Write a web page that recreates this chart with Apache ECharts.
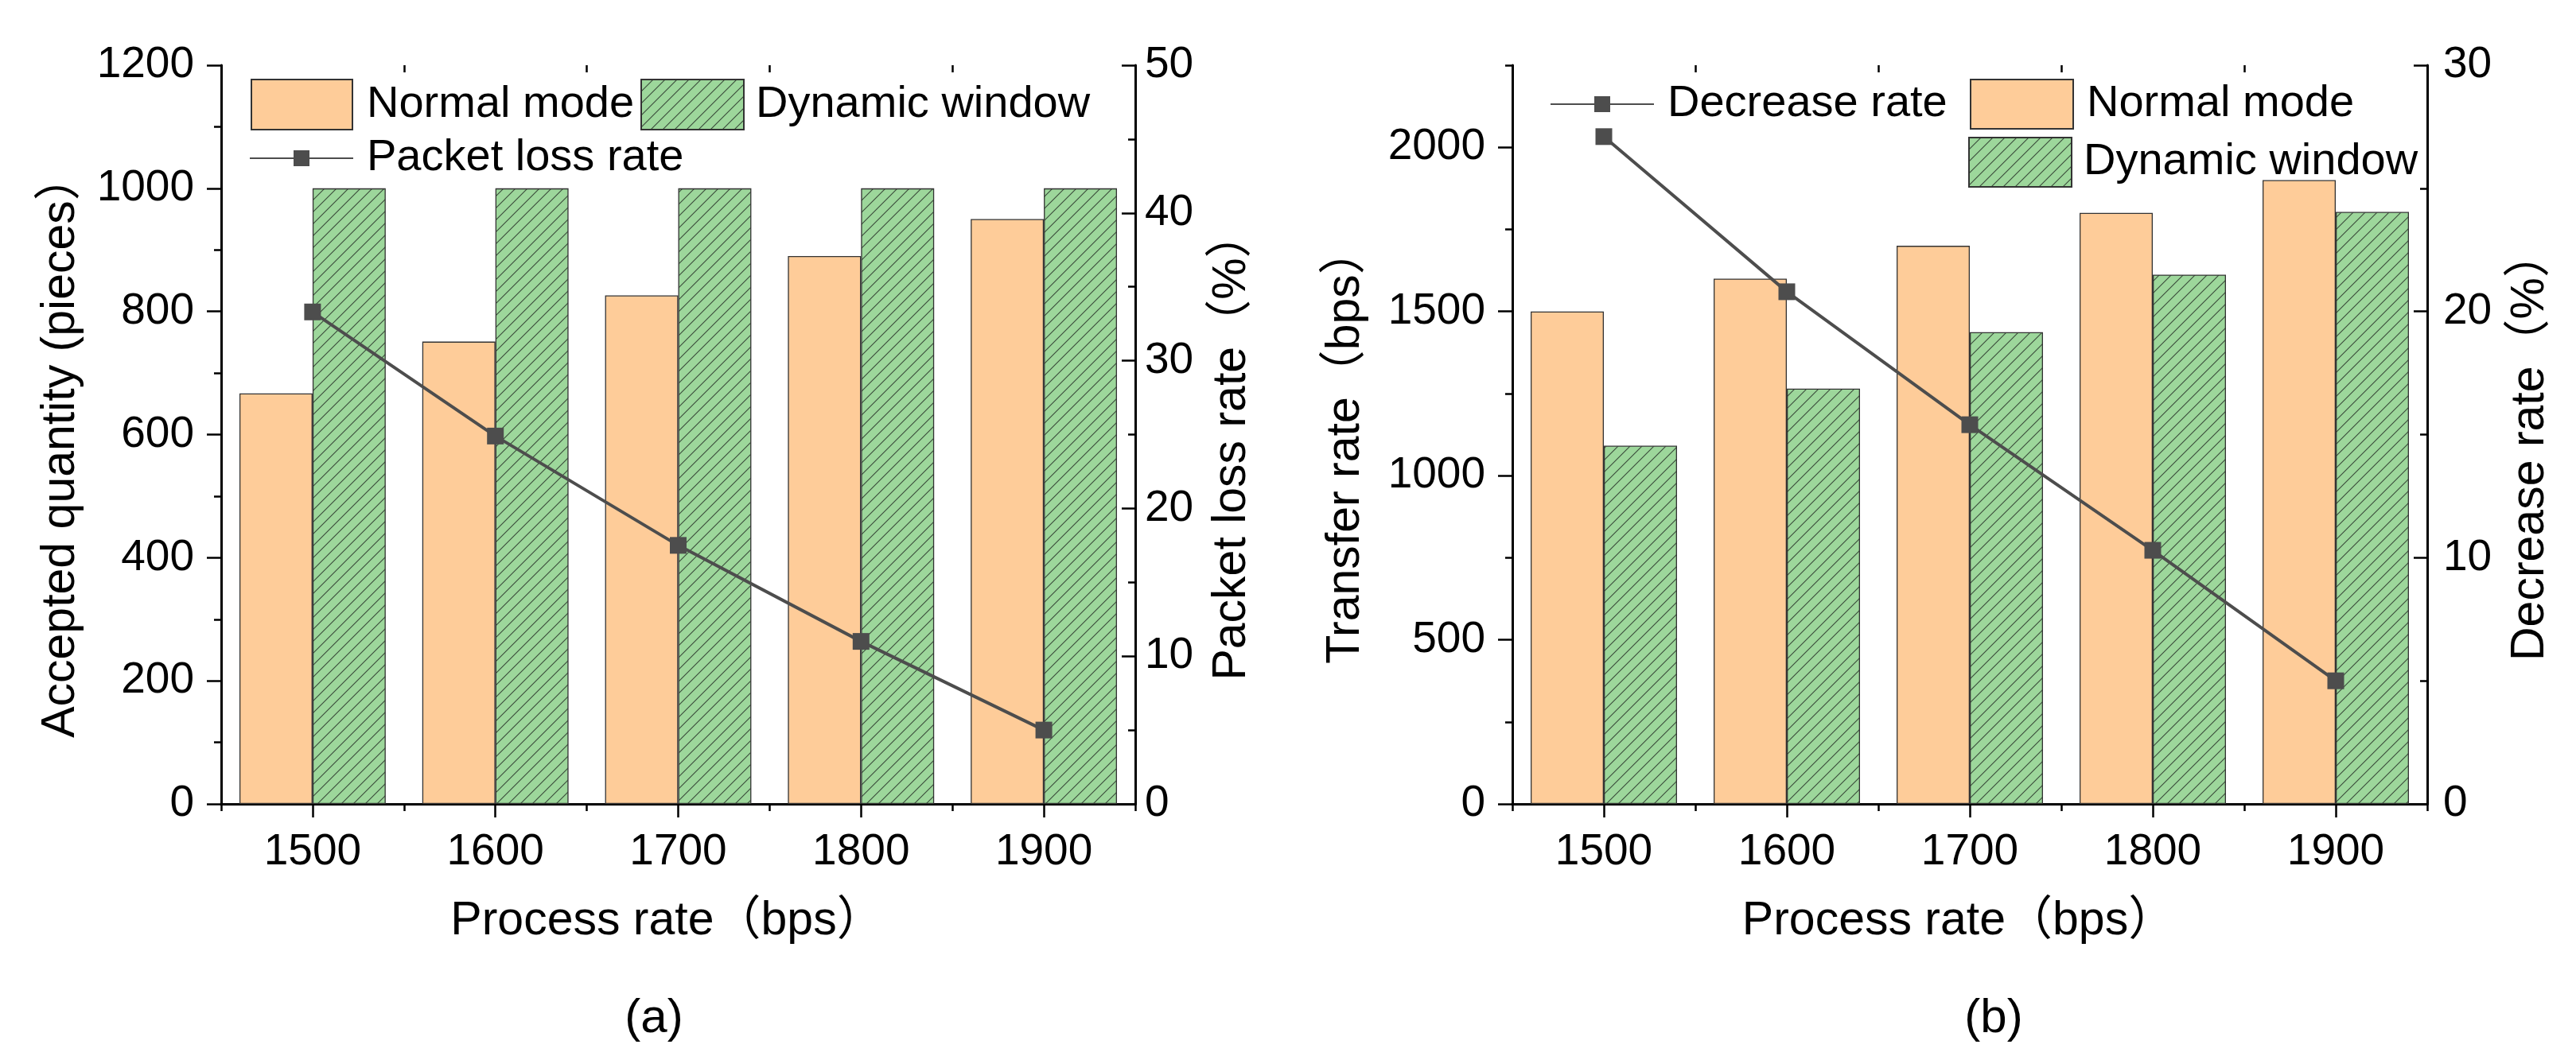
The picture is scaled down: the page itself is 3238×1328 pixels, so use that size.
<!DOCTYPE html>
<html><head><meta charset="utf-8">
<script src="https://cdn.jsdelivr.net/npm/echarts@6/dist/echarts.min.js"></script>
<style>html,body{margin:0;padding:0;background:#fff}#c{width:3238px;height:1328px}</style>
</head><body><div id="c"></div>
<script>
// ---------- data ----------
const categories = ['1500', '1600', '1700', '1800', '1900'];
const acceptedNormal = [667, 751, 826, 890, 950];
const acceptedDynamic = [1000, 1000, 1000, 1000, 1000];
const packetLossRate = [33.3, 24.9, 17.5, 11.0, 5.0];
const transferNormal = [1500, 1600, 1700, 1800, 1900];
const transferDynamic = [1091, 1265, 1437, 1612, 1803];
const decreaseRate = [27.1, 20.8, 15.4, 10.3, 5.0];
const transferTicks = [0, 500, 1000, 1500, 2000];

// ---------- style ----------
const FF = '"Liberation Sans", Arial, "Noto Sans CJK SC", sans-serif';
const ORANGE = '#FECC99';
const GREEN = '#9DD79B';
const LINE = '#4d4d4d';
const AXW = 3;

function hatch(bg, fg, s) {
  const c = document.createElement('canvas');
  c.width = s; c.height = s;
  const g = c.getContext('2d');
  g.fillStyle = bg; g.fillRect(0, 0, s, s);
  g.strokeStyle = fg; g.lineWidth = 1.1;
  g.beginPath();
  g.moveTo(-1, s + 1); g.lineTo(s + 1, -1);
  g.moveTo(-s / 2, s / 2); g.lineTo(s / 2, -s / 2);
  g.moveTo(s / 2, s * 1.5); g.lineTo(s * 1.5, s / 2);
  g.stroke();
  return c;
}
const hatchFill = { image: hatch(GREEN, '#3a4a3a', 15), repeat: 'repeat' };

const G = [
  { left: 278, top: 82, width: 1149, height: 929 },
  { left: 278, top: 82, width: 1149, height: 929 },
  { left: 1901, top: 82, width: 1150, height: 929 },
  { left: 1901, top: 82, width: 1150, height: 929 }
];

const plain = (v) => String(v);
const lblStyle = { fontSize: 55, color: '#000', fontFamily: FF, formatter: plain };
const nameStyle = (pad) => ({ fontSize: 59, color: '#000', fontFamily: FF, padding: pad });

function xMain(gi, pos, withLabel) {
  return {
    type: 'category', gridIndex: gi, position: pos, data: categories, boundaryGap: true,
    axisLine: { show: true, lineStyle: { color: '#000', width: AXW } },
    axisTick: { show: true, alignWithLabel: true, inside: pos === 'top', length: 17, lineStyle: { color: '#000', width: 2.5 } },
    axisLabel: withLabel ? Object.assign({ margin: 33 }, lblStyle) : { show: false },
    splitLine: { show: false },
    name: withLabel ? 'Process rate（bps）' : '',
    nameLocation: 'middle', nameGap: 118,
    nameTextStyle: nameStyle([0, 28, 0, 0])
  };
}
function xMinor(gi, pos) {
  return {
    type: 'category', gridIndex: gi, position: pos, data: categories, boundaryGap: true,
    axisLine: { show: false },
    axisTick: { show: true, alignWithLabel: false, inside: pos === 'top', length: 9, lineStyle: { color: '#000', width: 2.5 } },
    axisLabel: { show: false }, splitLine: { show: false }
  };
}

function lg(name, left, top, w, h, gap, icon) {
  const o = {
    data: [name], left: left, top: top, itemWidth: w, itemHeight: h, padding: 0, itemGap: 0,
    selectedMode: false,
    textStyle: { fontSize: 56, color: '#000', fontFamily: FF, padding: [0, 0, 0, gap] }
  };
  if (icon) o.icon = icon;
  return o;
}

const option = {
  backgroundColor: '#fff',
  animation: false,
  grid: G,
  xAxis: [
    xMain(0, 'bottom', true), xMain(0, 'top', false),
    xMinor(1, 'bottom'), xMinor(1, 'top'),
    xMain(2, 'bottom', true), xMain(2, 'top', false),
    xMinor(3, 'bottom'), xMinor(3, 'top')
  ],
  yAxis: [
    { // 0: chart a left
      type: 'value', gridIndex: 0, position: 'left', min: 0, max: 1200, interval: 200,
      axisLine: { show: true, lineStyle: { color: '#000', width: AXW } },
      axisTick: { show: true, inside: false, length: 18, lineStyle: { color: '#000', width: 2.5 } },
      minorTick: { show: true, splitNumber: 2, length: 9, lineStyle: { color: '#000', width: 2.5 } },
      axisLabel: Object.assign({ margin: 34 }, lblStyle),
      splitLine: { show: false },
      name: 'Accepted quantity (pieces）', nameLocation: 'middle', nameGap: 172,
      nameTextStyle: nameStyle([0, 28, 0, 0])
    },
    { // 1: chart a right
      type: 'value', gridIndex: 0, position: 'right', min: 0, max: 50, interval: 10,
      axisLine: { show: true, lineStyle: { color: '#000', width: AXW } },
      axisTick: { show: true, inside: true, length: 17, lineStyle: { color: '#000', width: 2.5 } },
      minorTick: { show: true, splitNumber: 2, length: 9, lineStyle: { color: '#000', width: 2.5 } },
      axisLabel: Object.assign({ margin: 12 }, lblStyle),
      splitLine: { show: false },
      name: 'Packet loss rate（%）', nameLocation: 'middle', nameGap: 92,
      nameTextStyle: nameStyle([0, 28, 0, 0])
    },
    { type: 'value', gridIndex: 1, show: false, min: 0, max: 1 },
    { // 3: chart b left
      type: 'value', gridIndex: 2, position: 'left', min: 0, max: 2250, interval: 250,
      axisLine: { show: true, lineStyle: { color: '#000', width: AXW } },
      axisTick: { show: true, inside: false, length: 18, customValues: transferTicks, lineStyle: { color: '#000', width: 2.5 } },
      axisLabel: Object.assign({ margin: 34, customValues: transferTicks }, lblStyle),
      splitLine: { show: false },
      name: 'Transfer rate（bps）', nameLocation: 'middle', nameGap: 180,
      nameTextStyle: nameStyle([0, 28, 0, 0])
    },
    { // 4: chart b right
      type: 'value', gridIndex: 2, position: 'right', min: 0, max: 30, interval: 10,
      axisLine: { show: true, lineStyle: { color: '#000', width: AXW } },
      axisTick: { show: true, inside: true, length: 17, lineStyle: { color: '#000', width: 2.5 } },
      minorTick: { show: true, splitNumber: 2, length: 9, lineStyle: { color: '#000', width: 2.5 } },
      axisLabel: Object.assign({ margin: 20 }, lblStyle),
      splitLine: { show: false },
      name: 'Decrease rate（%）', nameLocation: 'middle', nameGap: 100,
      nameTextStyle: nameStyle([0, 28, 0, 0])
    },
    { // 5: chart b left minor ticks
      type: 'value', gridIndex: 3, position: 'left', min: 0, max: 2250, interval: 250,
      axisLine: { show: false },
      axisTick: { show: true, inside: false, length: 9, lineStyle: { color: '#000', width: 2.5 } },
      axisLabel: { show: false }, splitLine: { show: false }
    }
  ],
  legend: [
    lg('Normal mode', 315, 99, 127, 63, 13, 'rect'),
    lg('Dynamic window', 805, 99, 129, 63, 10, 'rect'),
    lg('Packet loss rate', 313, 171, 130, 25, 12),
    lg('Decrease rate', 1948, 103, 130, 25, 12),
    lg('Normal mode', 2476, 99, 129, 62, 12, 'rect'),
    lg('Dynamic window', 2474, 172, 129, 62, 10, 'rect')
  ],
  series: [
    { name: 'Normal mode', type: 'bar', xAxisIndex: 0, yAxisIndex: 0, data: acceptedNormal,
      barWidth: '40%', barGap: '0%', itemStyle: { color: ORANGE, borderColor: '#333', borderWidth: 1.3 } },
    { name: 'Dynamic window', type: 'bar', xAxisIndex: 0, yAxisIndex: 0, data: acceptedDynamic,
      barWidth: '40%', barGap: '0%', itemStyle: { color: hatchFill, borderColor: '#333', borderWidth: 1.3 } },
    { name: 'Packet loss rate', type: 'line', xAxisIndex: 0, yAxisIndex: 1, data: packetLossRate,
      symbol: 'rect', symbolSize: 21, z: 5,
      lineStyle: { color: LINE, width: 4 }, itemStyle: { color: LINE } },
    { name: 'Normal mode', type: 'bar', xAxisIndex: 4, yAxisIndex: 3, data: transferNormal,
      barWidth: '40%', barGap: '0%', itemStyle: { color: ORANGE, borderColor: '#333', borderWidth: 1.3 } },
    { name: 'Dynamic window', type: 'bar', xAxisIndex: 4, yAxisIndex: 3, data: transferDynamic,
      barWidth: '40%', barGap: '0%', itemStyle: { color: hatchFill, borderColor: '#333', borderWidth: 1.3 } },
    { name: 'Decrease rate', type: 'line', xAxisIndex: 4, yAxisIndex: 4, data: decreaseRate,
      symbol: 'rect', symbolSize: 21, z: 5,
      lineStyle: { color: LINE, width: 4 }, itemStyle: { color: LINE } }
  ],
  graphic: [
    { type: 'text', x: 822, y: 1281, style: { text: '(a)', font: '60px ' + FF, fill: '#000', align: 'center', verticalAlign: 'middle' } },
    { type: 'text', x: 2506, y: 1281, style: { text: '(b)', font: '60px ' + FF, fill: '#000', align: 'center', verticalAlign: 'middle' } }
  ]
};

const chart = echarts.init(document.getElementById('c'), null, { renderer: 'canvas' });
chart.setOption(option);
</script>
</body></html>
